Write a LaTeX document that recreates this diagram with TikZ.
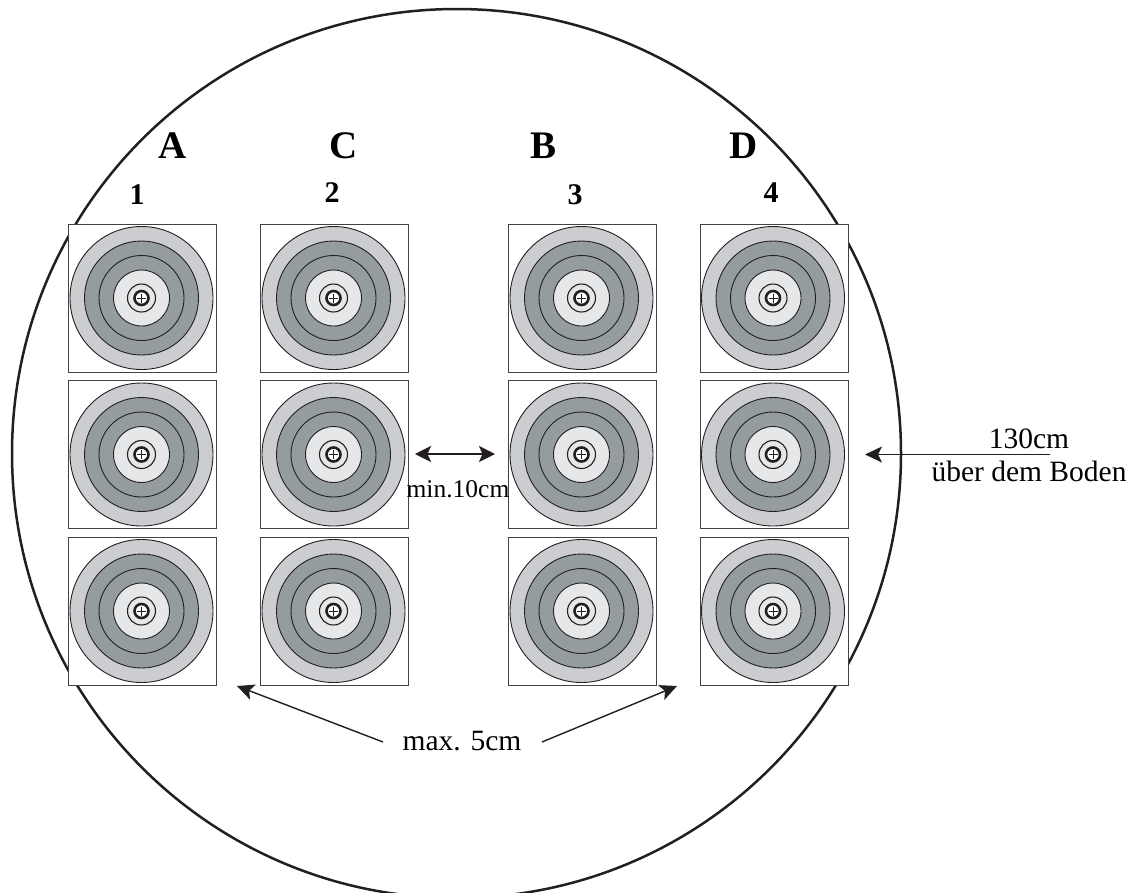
\documentclass[tikz,border=0pt]{standalone}
\usepackage{fontspec}
\setmainfont{Liberation Serif}
\usetikzlibrary{arrows.meta}
\definecolor{ringlight}{HTML}{CBCDD1}
\definecolor{ringdark}{HTML}{949C9F}
\definecolor{ringpale}{HTML}{E6E7E9}
\definecolor{inkk}{HTML}{231F20}
\tikzset{
  x=1pt,y=-1pt,
  boxnode/.style={draw=inkk!85,line width=1pt,fill=white,minimum size=148pt,inner sep=0pt,outer sep=0pt},
  ring/.style={draw=inkk,line width=0.9pt},
  lab/.style={inner sep=0pt,text=black},
  bigl/.style={lab,anchor=base,font=\fontsize{39}{39}\selectfont\bfseries},
  numl/.style={lab,anchor=base,font=\fontsize{30}{30}\selectfont\bfseries},
  txt/.style={lab,anchor=base,font=\fontsize{29.5}{30}\selectfont},
  conn/.style={draw=inkk,line width=1.4pt,-{Stealth[length=17pt,width=16pt,inset=4pt]}},
  conn2/.style={draw=inkk,line width=1.8pt,{Stealth[length=16pt,width=16pt,inset=3.5pt]}-{Stealth[length=16pt,width=16pt,inset=3.5pt]}},
  pics/target/.style={code={
    \fill[ringlight] (0,0) circle (71.5);
    \draw[ring] (0,0) circle (71.5);
    \fill[ringdark] (0,0) circle (57);
    \draw[ring] (0,0) circle (57);
    \draw[ring] (0,0) circle (42.5);
    \fill[ringpale] (0,0) circle (28);
    \draw[ring] (0,0) circle (28);
    \draw[ring,line width=1.1pt] (0,0) circle (14);
    \draw[ring,line width=2.6pt,fill=white] (0,0) circle (7);
    \draw[ring,line width=0.6pt] (-4.5,0) -- (4.5,0) (0,-4.5) -- (0,4.5);
  }}
}
\begin{document}
\begin{tikzpicture}
\useasboundingbox (0,0) rectangle (1134,892);
\begin{scope}
\clip (0,0) rectangle (1134,892);
\node[draw=inkk,line width=2.5pt,circle,minimum size=889pt,inner sep=0pt,outer sep=0pt] (ground) at (456.5,453.5) {};
\end{scope}
\foreach \col/\cx/\tx in {a/142/141.5,c/334/333.5,b/582/581.5,d/774/773}{
  \foreach \row/\cy in {1/298,2/454.5,3/611}{
    \node[boxnode] (\col\row) at (\cx,\cy) {};
    \pic at (\tx,\cy) {target};
  }
}
\node[bigl] (la) at (173,158) {A};
\node[bigl] (lc) at (344,158) {C};
\node[bigl] (lb) at (543,158) {B};
\node[bigl] (ld) at (744,158) {D};
\node[numl] (n1) at (137,204) {1};
\node[numl] (n2) at (332,202) {2};
\node[numl] (n3) at (575,204) {3};
\node[numl] (n4) at (771,202) {4};
\node[lab,anchor=base,font=\fontsize{25.5}{26}\selectfont] (minl) at (458,497) {min.10cm};
\coordinate (gapl) at (415,454);
\coordinate (gapr) at (495,454);
\draw[conn2] (gapl) -- (gapr);
\node[txt] (h130) at (1029,448) {130cm};
\node[txt] (hboden) at (1029,481) {über dem Boden};
\coordinate (harrowtip) at (865,454.5);
\coordinate (harrowend) at (1050,454.5);
\draw[conn] (harrowend) -- (harrowtip);
\node[txt] (max) at (462,750) {max. 5cm};
\coordinate (mtipl) at (237,686);
\coordinate (mtipr) at (677,686);
\coordinate (mstartl) at (383,742);
\coordinate (mstartr) at (542,742);
\draw[conn] (mstartl) -- (mtipl);
\draw[conn] (mstartr) -- (mtipr);
\end{tikzpicture}
\end{document}
